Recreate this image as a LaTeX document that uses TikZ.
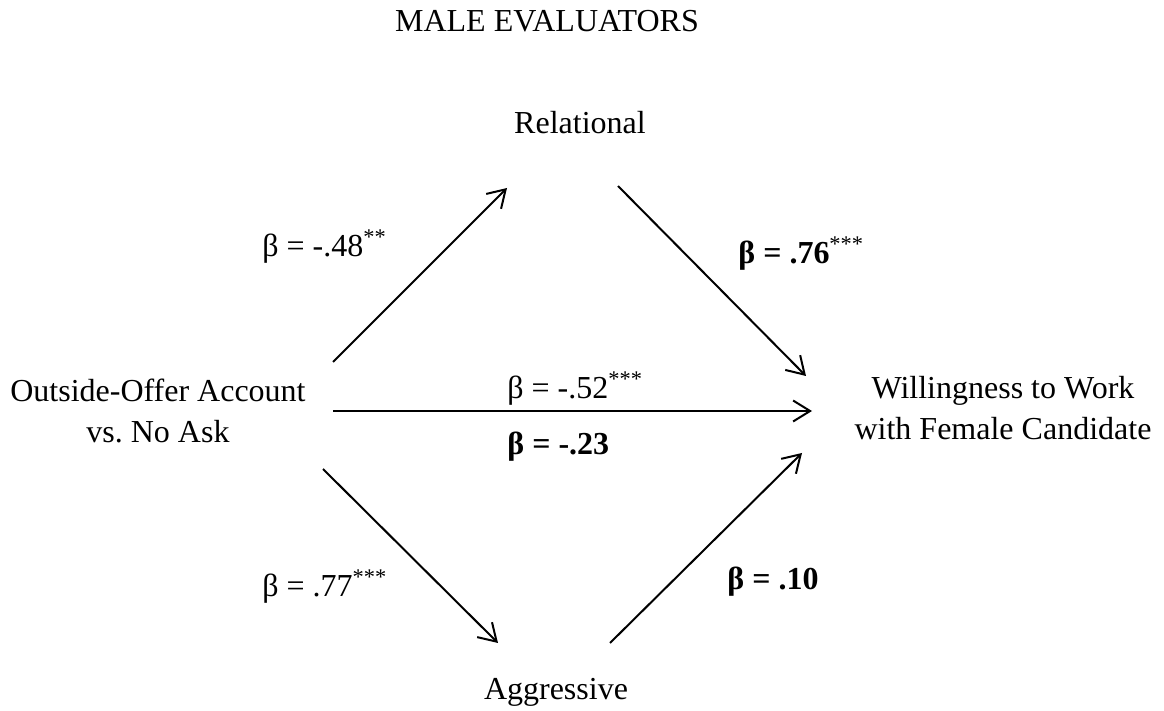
\documentclass[tikz,border=0pt]{standalone}
\usepackage{fontspec}
\setmainfont{Liberation Serif}
\usetikzlibrary{arrows.meta}
\frenchspacing
\begin{document}
\begin{tikzpicture}[x=0.5pt,y=-0.5pt,
  txt/.style={inner sep=0pt, font=\fontsize{16}{20.5}\selectfont, anchor=base, align=center},
  lbl/.style={inner sep=0pt, font=\fontsize{16}{20.5}\selectfont, anchor=base west},
  blbl/.style={inner sep=0pt, font=\fontsize{16}{20.5}\selectfont\bfseries, anchor=base west},
  conn/.style={line width=1pt, -{Straight Barb[length=8.5pt,width=10.5pt,line width=1pt]}}]
\useasboundingbox (0,0) rectangle (1164,711);
% nodes (base anchor of a two-line node = baseline of its last line)
\node[txt] (title) at (547,32) {MALE EVALUATORS};
\node[txt] (rel) at (580,134) {Relational};
\node[txt] (agg) at (556,700) {Aggressive};
\node[txt] (src) at (158,443) {Outside-Offer Account\\vs. No Ask};
\node[txt] (dst) at (1003,440) {Willingness to Work\\with Female Candidate};
% arrow end points
\coordinate (ul1) at (333,362); \coordinate (ul2) at (507,188);
\coordinate (ur1) at (618,186); \coordinate (ur2) at (806,376);
\coordinate (h1) at (333,411);  \coordinate (h2) at (812,411);
\coordinate (ll1) at (323,469); \coordinate (ll2) at (498,643);
\coordinate (lr1) at (610,643); \coordinate (lr2) at (802,453);
\draw[conn] (ul1) -- (ul2);
\draw[conn] (ur1) -- (ur2);
\draw[conn] (h1) -- (h2);
\draw[conn] (ll1) -- (ll2);
\draw[conn] (lr1) -- (lr2);
% labels
\node[lbl] (a1) at (262,257) {β = -.48\textsuperscript{**}};
\node[blbl] (b1) at (738,264) {β = .76\textsuperscript{\normalfont***}};
\node[lbl] (c1) at (507,399) {β = -.52\textsuperscript{***}};
\node[blbl] (c2) at (507,455) {β = -.23};
\node[lbl] (a2) at (262,597) {β = .77\textsuperscript{***}};
\node[blbl] (b2) at (727,589) {β = .10};
\end{tikzpicture}
\end{document}
